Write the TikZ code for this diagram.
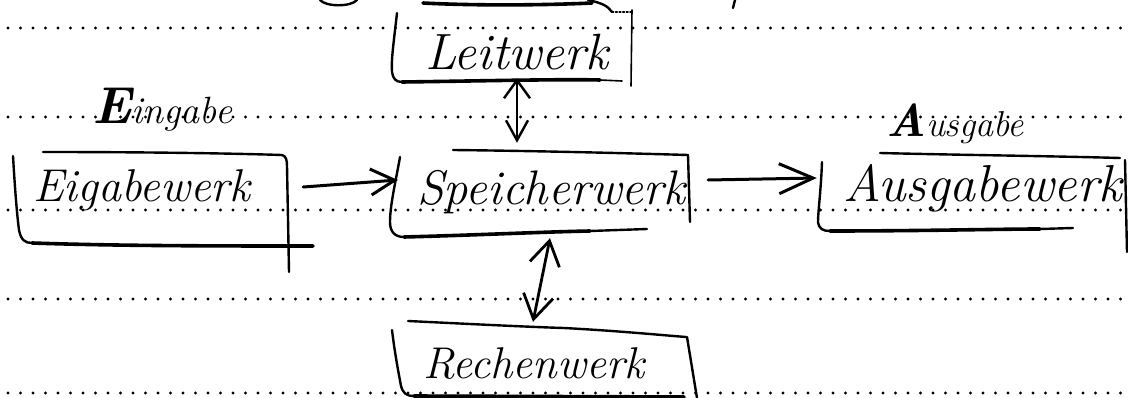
\documentclass[tikz,border=0pt]{standalone}
\usetikzlibrary{arrows.meta,calc}
\begin{document}
\begin{tikzpicture}[x=1pt,y=-1pt,
  ink/.style={line width=2.4pt, line cap=round, line join=round},
  heavy/.style={ink, line width=3.6pt},
  faint/.style={ink, line width=1.6pt},
  frame/.style={inner sep=0pt, draw=none, minimum width=#1},
  frame/.default=100pt,
  hand/.style={font=\fontsize{#1}{#1}\selectfont\itshape, inner sep=0pt, anchor=base west},
  hand/.default=48,
  dotrow/.style={fill=black}]
\useasboundingbox (0,0) rectangle (1128,398);
\fill[white] (0,0) rectangle (1128,398);

% ruled paper: dotted lines
\foreach \yy in {28,117,210,299,393}{
  \foreach \k in {0,...,89}{
    \fill[dotrow] ({8+12.5*\k},\yy) circle (1.65pt);
  }
}

% fragments of writing cut off at the top edge
\draw[ink] (320,0) .. controls (326,7) and (351,7) .. (357,0);
\draw[heavy] (423,3) .. controls (480,6) and (550,5) .. (592,3);
\draw[ink] (588,0) .. controls (602,3) and (608,6) .. (612,12);
\draw[ink] (735,0) -- (733,8);
\draw[faint, dotted] (612,12) -- (632,12);

% frames of the units
\node[frame=237pt, minimum height=70pt] (lw) at (513.5,47) {};
\node[frame=273pt, minimum height=91pt] (ew) at (150.5,199.5) {};
\node[frame=293pt, minimum height=82pt] (sw) at (541.5,194) {};
\node[frame=303pt, minimum height=75pt] (aw) at (973.5,192.5) {};
\node[frame=300pt, minimum height=65pt] (rw) at (542,360.5) {};

% Leitwerk box strokes
\draw[ink] (397,13) .. controls (394,40) and (391,60) .. (392,72) .. controls (393,79) and (396,82) .. (402,82);
\draw[heavy] (402,82) .. controls (480,81) and (560,79) .. (600,80);
\draw[faint] (600,80) -- (622,81);
\draw[faint] (632,10) -- (631,86);

% Eingabewerk box strokes
\draw[ink] (13,156) .. controls (15,190) and (17,215) .. (19,230) .. controls (21,240) and (25,243) .. (32,243);
\draw[heavy] (32,243) .. controls (120,246) and (220,246) .. (313,246);
\draw[ink] (43,152) .. controls (130,152) and (220,153) .. (282,155);
\draw[ink] (282,155) .. controls (286,156) and (287,160) .. (287,166) -- (289,272);

% Speicherwerk box strokes
\draw[ink] (400,157) .. controls (396,180) and (390,205) .. (390,222) .. controls (390,232) and (395,237) .. (404,237);
\draw[heavy] (404,237) .. controls (480,235) and (540,232) .. (590,231);
\draw[ink] (590,231) -- (647,229);
\draw[ink] (453,150) .. controls (540,151) and (620,153) .. (688,155);
\draw[ink] (688,155) -- (690,222);

% Ausgabewerk box strokes
\draw[ink] (822,162) .. controls (821,190) and (818,212) .. (818,222) .. controls (819,229) and (823,231) .. (830,231);
\draw[heavy] (830,231) .. controls (920,231) and (1000,229) .. (1040,229);
\draw[ink] (1040,229) -- (1073,228);
\draw[ink] (880,153) .. controls (960,155) and (1050,156) .. (1120,158);
\draw[ink] (1125,160) -- (1127,252);

% Rechenwerk box strokes
\draw[ink] (408,321) .. controls (470,324) and (530,327) .. (564,328) .. controls (620,331) and (660,335) .. (686,337);
\draw[ink] (687,337) -- (697,398);
\draw[ink] (392,330) .. controls (395,355) and (399,375) .. (401,386) .. controls (403,393) and (406,396) .. (414,396);
\draw[heavy] (414,396) -- (684,397);

% labels
\node[hand=51] (lwt) at (425,70) {Leitwerk};
\node[hand=46] (ewt) at (33,202) {Eigabewerk};
\node[hand=48.5] (swt) at (417,205) {Speicherwerk};
\node[hand=52] (awt) at (843,202) {Ausgabewerk};
\node[hand=44.5] (rwt) at (423,378) {Rechenwerk};
\node[hand=38] (ein) at (92,124) {{\fontsize{52}{52}\selectfont\bfseries E}ingabe};
\node[hand=36] (aus) at (886,137) {{\fontsize{46}{46}\selectfont\bfseries A}usgabe};

% data paths between the units
\draw[ink, {Straight Barb[length=18pt,width=26pt]}-{Straight Barb[length=20pt,width=22pt]}]
  ($(lw.south)+(3.5,-4)$) -- ($(lw.south |- sw.north)+(3.5,-10)$);
\draw[ink, line width=2.8pt, {Straight Barb[length=24pt,width=30pt]}-{Straight Barb[length=24pt,width=30pt]}]
  ($(sw.south)+(8.5,3)$) -- ($(rw.north)+(-9,-6)$);
\draw[ink, line width=3pt, -{Straight Barb[length=24pt,width=26pt]}]
  ($(ew.east)+(16,-12.5)$) -- ($(sw.west)+(3,-14)$);
\draw[ink, line width=3pt, -{Straight Barb[length=34pt,width=30pt]}]
  ($(sw.east)+(20,-14)$) -- ($(aw.west)+(-5,-14.5)$);
\end{tikzpicture}
\end{document}
